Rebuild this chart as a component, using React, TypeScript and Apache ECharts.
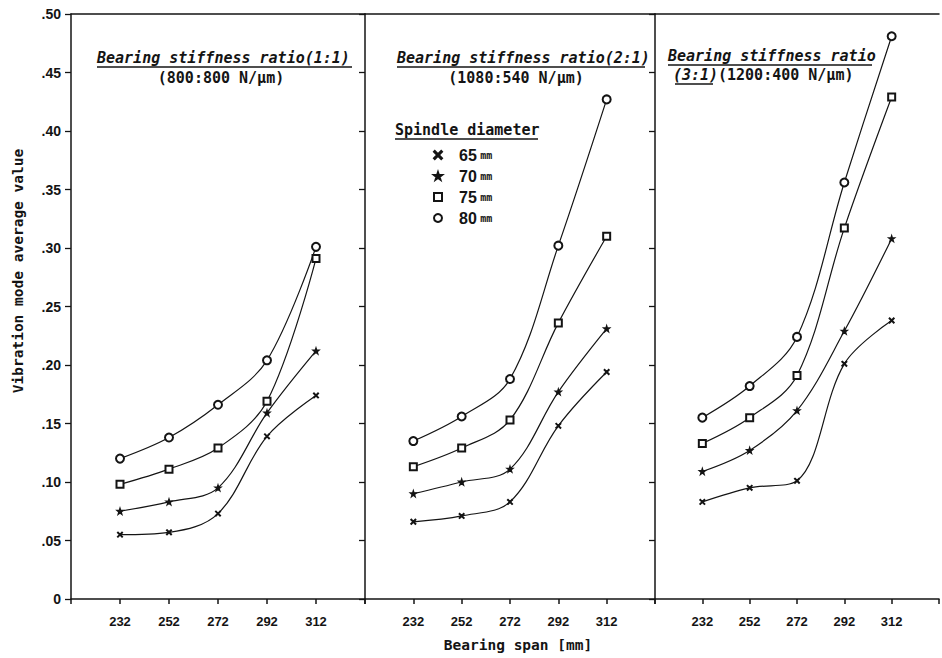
import React, { useEffect, useRef } from "react";
import * as echarts from "echarts";

// Bearing span (mm) categories shared by all three panels
const spans = [232, 252, 272, 292, 312];
const diameters = ["65", "70", "75", "80"];

// Panel 1: bearing stiffness ratio 1:1
const p1d65 = [0.055, 0.057, 0.073, 0.139, 0.174];
const p1d70 = [0.075, 0.083, 0.095, 0.159, 0.212];
const p1d75 = [0.098, 0.111, 0.129, 0.169, 0.291];
const p1d80 = [0.12, 0.138, 0.166, 0.204, 0.301];
// Panel 2: bearing stiffness ratio 2:1
const p2d65 = [0.066, 0.071, 0.083, 0.148, 0.194];
const p2d70 = [0.09, 0.1, 0.111, 0.177, 0.231];
const p2d75 = [0.113, 0.129, 0.153, 0.236, 0.31];
const p2d80 = [0.135, 0.156, 0.188, 0.302, 0.427];
// Panel 3: bearing stiffness ratio 3:1
const p3d65 = [0.083, 0.095, 0.101, 0.201, 0.238];
const p3d70 = [0.109, 0.127, 0.161, 0.229, 0.308];
const p3d75 = [0.133, 0.155, 0.191, 0.317, 0.429];
const p3d80 = [0.155, 0.182, 0.224, 0.356, 0.481];

const panels = [
  [p1d65, p1d70, p1d75, p1d80],
  [p2d65, p2d70, p2d75, p2d80],
  [p3d65, p3d70, p3d75, p3d80],
];

const titleLines = [
  "Bearing stiffness ratio(1:1)",
  "Bearing stiffness ratio(2:1)",
  "Bearing stiffness ratio",
];
const subLines = ["(800:800 N/μm)", "(1080:540 N/μm)", "(1200:400 N/μm)"];

const INK = "#141414";
const MONO = "'DejaVu Sans Mono', monospace";
const SANS = "'Liberation Sans', Arial, sans-serif";

const X_SYM = "path://M1,0L5,4L9,0L10,1L6,5L10,9L9,10L5,6L1,10L0,9L4,5L0,1Z";
const STAR_SYM =
  "path://M5,0L6.2,3.6L10,3.6L7,5.9L8.1,9.5L5,7.3L1.9,9.5L3,5.9L0,3.6L3.8,3.6Z";
const symbols = [X_SYM, STAR_SYM, "emptyRect", "emptyCircle"];
const symbolSizes = [5, 6, 7, 8];

const grids = [
  { left: 71, width: 294 },
  { left: 365, width: 290 },
  { left: 655, width: 287 },
];

export default function App() {
  const ref = useRef<HTMLDivElement>(null);
  useEffect(() => {
    if (!ref.current) return;
    const chart = echarts.init(ref.current, null, { renderer: "svg" });

    const grid = grids.map((g) => ({ ...g, top: 14, height: 585, show: false }));

    const xAxis: any[] = [];
    grids.forEach((_, i) => {
      xAxis.push({
        type: "value",
        gridIndex: i,
        position: "bottom",
        min: 212,
        max: 332,
        interval: 20,
        axisLine: { show: true, lineStyle: { color: INK, width: 1.5 } },
        axisTick: { show: true, length: 5, lineStyle: { color: INK, width: 1.5 } },
        axisLabel: {
          show: true,
          margin: 16,
          color: INK,
          fontFamily: SANS,
          fontWeight: "bold",
          fontSize: 13,
          formatter: (v: number) => (spans.indexOf(v) >= 0 ? String(v) : ""),
        },
        splitLine: { show: false },
      });
    });
    grids.forEach((_, i) => {
      xAxis.push({
        type: "value",
        gridIndex: i,
        position: "top",
        min: 212,
        max: 332,
        axisLine: { show: true, onZero: false, lineStyle: { color: INK, width: 1.5 } },
        axisTick: { show: false },
        axisLabel: { show: false },
        splitLine: { show: false },
      });
    });

    const yAxis = grids.map((_, i) => ({
      type: "value",
      gridIndex: i,
      min: 0,
      max: 0.5,
      interval: 0.05,
      axisLine: { show: true, lineStyle: { color: INK, width: 1.5 } },
      axisTick: { show: true, length: 6, lineStyle: { color: INK, width: 1.3 } },
      axisLabel: {
        show: i === 0,
        margin: 10,
        color: INK,
        fontFamily: SANS,
        fontWeight: "bold",
        fontSize: 14,
        formatter: (v: number) =>
          v === 0 ? "0" : "." + String(Math.round(v * 100)).padStart(2, "0"),
      },
      splitLine: { show: false },
    }));

    const series: any[] = [];
    panels.forEach((panel, p) => {
      panel.forEach((vals, d) => {
        series.push({
          type: "line",
          name: diameters[d],
          xAxisIndex: p,
          yAxisIndex: p,
          data: spans.map((s, k) => [s, vals[k]]),
          smooth: 0.35,
          symbol: symbols[d],
          symbolSize: symbolSizes[d],
          lineStyle: { color: INK, width: 1.2 },
          itemStyle: { color: INK, borderColor: INK, borderWidth: 1.3 },
        });
      });
    });

    const text = (
      t: string,
      x: number,
      y: number,
      opts: any = {}
    ) => ({
      type: "text",
      x,
      y,
      silent: true,
      style: {
        text: t,
        fill: INK,
        font: `${opts.italic ? "italic " : ""}bold ${opts.size || 15}px ${MONO}`,
        textAlign: opts.align || "left",
        textVerticalAlign: "middle",
      },
      rotation: opts.rotation || 0,
    });
    const uline = (x1: number, x2: number, y: number) => ({
      type: "line",
      silent: true,
      shape: { x1, y1: y, x2, y2: y },
      style: { stroke: INK, lineWidth: 1.3 },
    });

    const graphic: any[] = [
      text(titleLines[0], 97, 58, { italic: true }),
      uline(97, 352, 67),
      text(subLines[0], 221, 78, { align: "center" }),
      text(titleLines[1], 397, 58, { italic: true }),
      uline(397, 645, 67),
      text(subLines[1], 516, 78, { align: "center" }),
      text(titleLines[2], 668, 56, { italic: true }),
      uline(668, 872, 65),
      text("(3:1)", 673, 75, { italic: true }),
      uline(675, 713, 84),
      text(subLines[2], 718, 75),
      text("Spindle diameter", 395, 130),
      uline(395, 538, 139),
      text("Vibration mode average value", 18, 271, {
        align: "center",
        rotation: Math.PI / 2,
        size: 14.5,
      }),
      text("Bearing span [mm]", 518, 645, { align: "center", size: 14.5 }),
    ];

    chart.setOption({
      animation: false,
      backgroundColor: "#ffffff",
      grid,
      xAxis,
      yAxis,
      series,
      legend: {
        orient: "vertical",
        left: 428,
        top: 142,
        itemWidth: 8,
        itemHeight: 8,
        itemGap: 5,
        selectedMode: false,
        data: diameters.map((d, i) => ({ name: d, icon: symbols[i] })),
        formatter: (name: string) => `{n|${name}} {u|mm}`,
        textStyle: {
          color: INK,
          padding: [0, 0, 0, 12],
          rich: {
            n: {
              fontFamily: SANS,
              fontWeight: "bold",
              fontSize: 16,
              lineHeight: 16,
              color: INK,
            },
            u: {
              fontFamily: MONO,
              fontWeight: "bold",
              fontSize: 10,
              lineHeight: 16,
              color: INK,
            },
          },
        },
      },
      graphic,
    });
    return () => chart.dispose();
  }, []);
  return <div ref={ref} style={{ width: 942, height: 658, position: "absolute", left: 0, top: 0 }} />;
}
